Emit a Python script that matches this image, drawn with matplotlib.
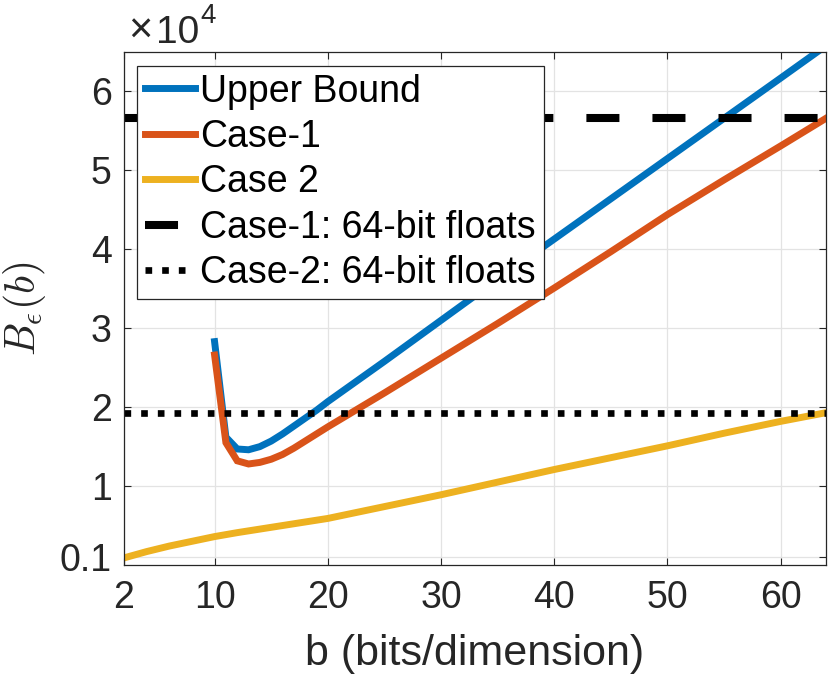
import matplotlib
matplotlib.use("Agg")
import matplotlib.pyplot as plt

# ── Data (values in units of 1e4) ─────────────────────────────────────
b_case1 = [10, 11, 12, 13, 14, 15, 16, 17, 18, 19, 20, 25, 30, 35, 40, 45, 50, 55, 60, 64]
upper   = [2.83, 1.62, 1.47, 1.46, 1.50, 1.57, 1.66, 1.76, 1.86, 1.96, 2.07,
           2.58, 3.10, 3.62, 4.13, 4.64, 5.15, 5.66, 6.17, 6.58]
case1   = [2.66, 1.55, 1.32, 1.28, 1.30, 1.34, 1.40, 1.48, 1.57, 1.66, 1.75,
           2.18, 2.62, 3.06, 3.51, 3.97, 4.44, 4.88, 5.31, 5.66]

b_case2 = [2, 4, 6, 8, 10, 12, 14, 16, 18, 20, 25, 30, 35, 40, 45, 50, 55, 60, 64]
case2   = [0.09, 0.17, 0.24, 0.30, 0.36, 0.41, 0.455, 0.50, 0.545, 0.59,
           0.74, 0.89, 1.05, 1.21, 1.36, 1.51, 1.67, 1.82, 1.93]

b_float     = [2, 64]
case1_float = [5.66, 5.66]
case2_float = [1.93, 1.93]

xticks = [2, 10, 20, 30, 40, 50, 60]
yticks = [0.1, 1, 2, 3, 4, 5, 6]
ytick_labels = ["0.1", "1", "2", "3", "4", "5", "6"]

COLORS = {"ub": "#0072BD", "c1": "#D95319", "c2": "#EDB120", "axis": "#262626"}

plt.rcParams["font.family"] = ["Liberation Sans", "DejaVu Sans"]
plt.rcParams["mathtext.fontset"] = "cm"

fig = plt.figure(figsize=(8.30, 6.78), dpi=100)
ax = fig.add_axes([124 / 830, 113 / 678, 702 / 830, 513 / 678])

lw = 5.0
ax.plot(b_case1, upper, color=COLORS["ub"], lw=lw, label="Upper Bound", solid_joinstyle="miter")
ax.plot(b_case1, case1, color=COLORS["c1"], lw=lw, label="Case-1", solid_joinstyle="miter")
ax.plot(b_case2, case2, color=COLORS["c2"], lw=lw, label="Case 2")
ax.plot(b_float, case1_float, color="black", lw=5.8, dashes=(4.1, 4.1),
        dash_capstyle="butt", label="Case-1: 64-bit floats")
ax.plot(b_float, case2_float, color="black", lw=4.8, dashes=(1.0, 1.5),
        dash_capstyle="butt", label="Case-2: 64-bit floats")

ax.set_xlim(2, 64)
ax.set_ylim(0, 6.5)
ax.set_xticks(xticks)
ax.set_yticks(yticks)
ax.set_yticklabels(ytick_labels)
ax.grid(True, color="#e3e3e3", lw=0.9)
ax.set_axisbelow(True)

ax.tick_params(axis="both", direction="in", length=5, width=0.8, colors=COLORS["axis"],
               labelsize=27, top=True, right=True)
ax.tick_params(axis="x", pad=11)
ax.tick_params(axis="y", pad=9)
for s in ax.spines.values():
    s.set_color(COLORS["axis"])
    s.set_linewidth(0.9)

ax.set_xlabel("b (bits/dimension)", fontsize=31, color=COLORS["axis"])
ax.xaxis.set_label_coords(0.5, -0.135)
ax.set_ylabel(r"$B_\epsilon(b)$", fontsize=30, color=COLORS["axis"])
ax.yaxis.set_label_coords(-0.108, 0.5)

# MATLAB-style exponent label
fig.text(128 / 830, 1 - 43 / 678, "×", fontsize=30, color=COLORS["axis"], va="baseline")
fig.text(156 / 830, 1 - 43 / 678, "10", fontsize=28, color=COLORS["axis"], va="baseline")
fig.text(200 / 830, 1 - 23 / 678, "4", fontsize=20, color=COLORS["axis"], va="baseline")

leg = ax.legend(loc="upper left", bbox_to_anchor=(137 / 830, 1 - 66 / 678),
                bbox_transform=fig.transFigure, borderaxespad=0, fontsize=27,
                fancybox=False, framealpha=1, edgecolor=COLORS["axis"],
                handlelength=1.34, handletextpad=0.15, labelspacing=0.25,
                borderpad=0.2)
leg.get_frame().set_linewidth(0.9)

fig.savefig("out.png", dpi=100, facecolor="white")
